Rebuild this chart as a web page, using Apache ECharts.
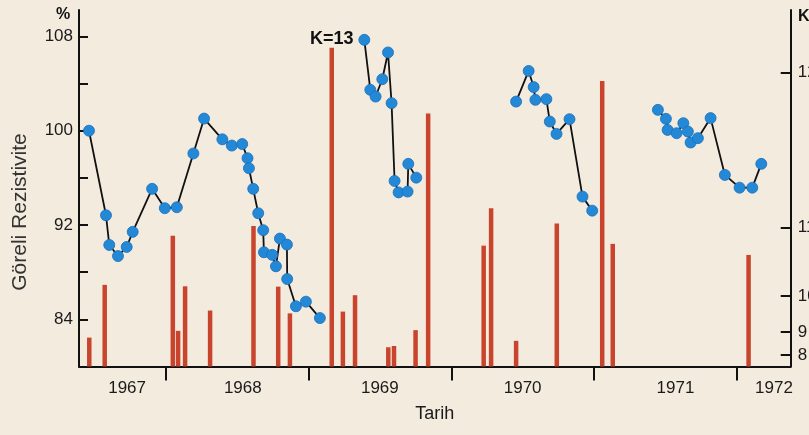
<!DOCTYPE html>
<html>
<head>
<meta charset="utf-8">
<script src="https://cdn.jsdelivr.net/npm/echarts@6/dist/echarts.min.js"></script>
<style>
  html, body { margin: 0; padding: 0; background: #f4ebdf; }
  #chart { width: 809px; height: 435px; }
</style>
</head>
<body>
<div id="chart"></div>
<script>
// ---- Data (dates as decimal years) ----
// Relative resistivity (%) — four measurement periods
const seg1Dates = [1967.463,1967.582,1967.605,1967.666,1967.727,1967.769,1967.905,1967.994,1968.078,1968.194,1968.269,1968.397,1968.463,1968.536,1968.573,1968.583,1968.613,1968.648,1968.683,1968.688,1968.746,1968.772,1968.800,1968.849,1968.851,1968.912,1968.982,1969.080];
const seg1Values = [100.0,92.83,90.31,89.37,90.14,91.42,95.07,93.43,93.51,98.07,101.03,99.27,98.74,98.87,97.67,96.82,95.07,93.0,91.56,89.69,89.47,88.5,90.85,90.34,87.42,85.11,85.5,84.11];

const seg2Dates = [1969.391,1969.433,1969.470,1969.517,1969.557,1969.582,1969.603,1969.631,1969.694,1969.699,1969.755];
const seg2Values = [107.71,103.47,102.9,104.37,106.64,102.34,95.74,94.77,94.84,97.19,96.02];

const seg3Dates = [1970.454,1970.542,1970.577,1970.589,1970.666,1970.690,1970.737,1970.828,1970.919,1970.987];
const seg3Values = [102.47,105.07,103.7,102.62,102.68,100.78,99.73,100.98,94.41,93.22];

const seg4Dates = [1971.447,1971.503,1971.515,1971.578,1971.625,1971.657,1971.676,1971.727,1971.816,1971.916,1972.019,1972.108,1972.171];
const seg4Values = [101.77,101.01,100.07,99.79,100.64,99.93,99.0,99.37,101.07,96.25,95.17,95.17,97.19];

// Earthquakes: dates and magnitude level on the right (K) scale
const quakeDates = [1967.465,1967.573,1968.050,1968.087,1968.136,1968.311,1968.615,1968.788,1968.870,1969.163,1969.241,1969.326,1969.559,1969.599,1969.750,1969.838,1970.227,1970.279,1970.454,1970.739,1971.057,1971.131,1972.082];
const quakeLevels = [8.1,22.9,36.7,10.0,22.5,15.7,39.4,22.4,14.9,89.4,15.4,20.0,5.4,5.75,10.2,71.0,33.9,44.4,7.2,40.1,80.1,34.4,31.3];
const quakeNotes = {9: 'K=13'};

// Axis ticks / labels
const resTicks = [84, 88, 92, 96, 100, 104, 108];
const resLabels = [84, 92, 100, 108];
const kTickValues = [3.2, 9.7, 19.8, 39.0, 82.5];
const kTickLabels = ['8', '9', '10', '11', '12'];
const yearTicks = [1968, 1969, 1970, 1971, 1972];
const yearLabelValues = [1967.73, 1968.54, 1969.50, 1970.50, 1971.57, 1972.26];
const yearLabels = ['1967', '1968', '1969', '1970', '1971', '1972'];

const zip = (a, b) => a.map((x, i) => [x, b[i]]);

const FONT = '"Liberation Sans", Arial, sans-serif';
const lineColor = '#111';
const dotColor = '#2389d7';
const barColor = '#c9442c';

function lineSeries(dates, values) {
  return {
    type: 'line',
    xAxisIndex: 0, yAxisIndex: 0,
    data: zip(dates, values),
    symbol: 'circle',
    symbolSize: 11,
    lineStyle: { color: lineColor, width: 1.8 },
    itemStyle: { color: dotColor, borderColor: '#1a6fba', borderWidth: 0.8 },
    z: 5,
    animation: false
  };
}

const barData = quakeDates.map((d, i) => {
  const item = { value: [d, quakeLevels[i]] };
  if (quakeNotes[i]) {
    item.label = {
      show: true, position: 'top', distance: 0,
      formatter: quakeNotes[i],
      fontFamily: FONT, fontWeight: 'bold', fontSize: 18, color: '#111'
    };
  }
  return item;
});

const chart = echarts.init(document.getElementById('chart'), null, { renderer: 'canvas' });
chart.setOption({
  backgroundColor: '#f4ebdf',
  animation: false,
  grid: { left: 79, right: 18.3, top: 10, bottom: 68.5, containLabel: false, outerBoundsMode: 'none' },
  xAxis: {
    type: 'value',
    min: 1967.393,
    max: 1972.377,
    axisLine: { onZero: false, lineStyle: { color: '#111', width: 2 } },
    axisTick: { show: true, customValues: yearTicks, length: 14, inside: false, lineStyle: { color: '#111', width: 2 } },
    axisLabel: {
      customValues: yearLabelValues,
      formatter: v => { const i = yearLabelValues.indexOf(v); return i >= 0 ? yearLabels[i] : ''; },
      margin: 13, fontFamily: FONT, fontSize: 17, color: '#1a1a1a'
    },
    splitLine: { show: false },
    name: 'Tarih',
    nameLocation: 'middle',
    nameGap: 39,
    nameTextStyle: { fontFamily: FONT, fontSize: 18, color: '#1a1a1a' }
  },
  yAxis: [
    {
      type: 'value',
      position: 'left',
      min: 80,
      max: 110.24,
      axisLine: { show: true, lineStyle: { color: '#111', width: 2 } },
      axisTick: { show: true, customValues: resTicks, inside: true, length: 9, lineStyle: { color: '#111', width: 2 } },
      axisLabel: {
        customValues: resLabels,
        margin: 6, fontFamily: FONT, fontSize: 17, color: '#1a1a1a'
      },
      splitLine: { show: false }
    },
    {
      type: 'value',
      position: 'right',
      min: 0,
      max: 100,
      axisLine: { show: true, lineStyle: { color: '#111', width: 2 } },
      axisTick: { show: true, customValues: kTickValues, inside: true, length: 10, lineStyle: { color: '#111', width: 2 } },
      axisLabel: {
        customValues: kTickValues,
        formatter: v => { const i = kTickValues.indexOf(v); return i >= 0 ? kTickLabels[i] : ''; },
        margin: 7, fontFamily: FONT, fontSize: 17, color: '#1a1a1a'
      },
      splitLine: { show: false }
    }
  ],
  series: [
    {
      type: 'bar',
      xAxisIndex: 0, yAxisIndex: 1,
      data: barData,
      barWidth: 4.5,
      itemStyle: { color: barColor },
      z: 2,
      animation: false
    },
    lineSeries(seg1Dates, seg1Values),
    lineSeries(seg2Dates, seg2Values),
    lineSeries(seg3Dates, seg3Values),
    lineSeries(seg4Dates, seg4Values)
  ],
  graphic: [
    {
      type: 'text', left: 56, top: 7,
      style: { text: '%', font: 'bold 16px ' + FONT, fill: '#111' }
    },
    {
      type: 'text', left: 798, top: 9,
      style: { text: 'K', font: 'bold 16px ' + FONT, fill: '#111' }
    },
    {
      type: 'text',
      x: 20, y: 212,
      rotation: Math.PI / 2,
      style: { text: 'Göreli Rezistivite', font: '21px ' + FONT, fill: '#333', align: 'center', verticalAlign: 'middle' }
    }
  ]
});
</script>
</body>
</html>
